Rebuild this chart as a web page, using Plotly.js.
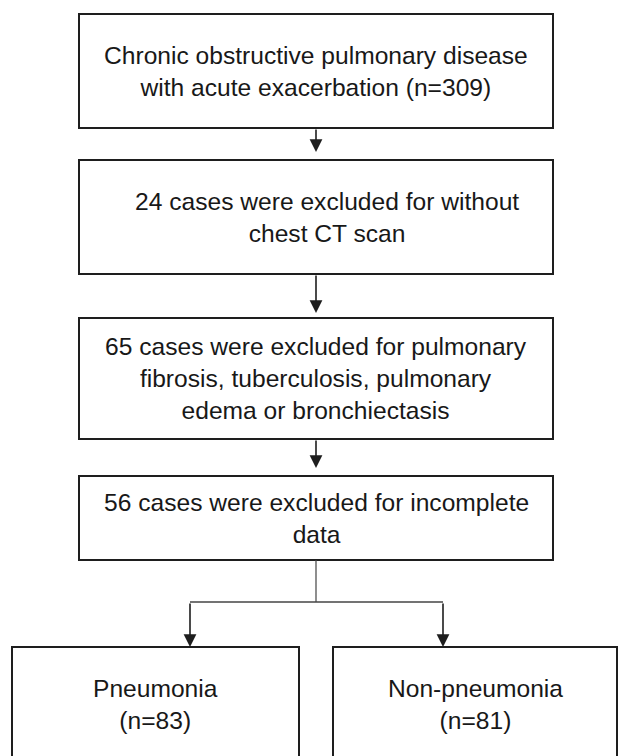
<!DOCTYPE html>
<html><head><meta charset="utf-8">
<script src="https://cdn.plot.ly/plotly-3.0.1.min.js"></script>
<style>html,body{margin:0;padding:0;background:#fff}#chart{width:618px;height:756px}</style>
</head><body><div id="chart"></div>
<script>
// ---- content ----
const totalCount = 309;
const excludedCounts = [24, 65, 56];
const excludedReasons = [
  "without<br>chest CT scan",
  "pulmonary<br>fibrosis, tuberculosis, pulmonary<br>edema or bronchiectasis",
  "incomplete<br>data"
];
const groupNames = ["Pneumonia", "Non-pneumonia"];
const groupCounts = [83, 81];

const stepLabels = ["Chronic obstructive pulmonary disease<br>with acute exacerbation (n=" + totalCount + ")"]
  .concat(excludedCounts.map((n, i) => n + " cases were excluded for " + excludedReasons[i]));
const groupLabels = groupNames.map((g, i) => g + "<br>(n=" + groupCounts[i] + ")");

// ---- geometry (layout) ----
const stepX = [79, 553];
const stepY = [[14, 128], [160, 274], [318, 439], [476, 560]];
const stepTextX = [316, 327, 316, 316];
const arrowTips = [152, 313, 468];
const groupX = [[12, 299], [333, 617]];
const groupY = [647, 761];
const groupArrowX = [190, 443];
const splitY = 602;
const midX = 316;

const ink = "#1e1e1e";
const font = {family: "Liberation Sans, Arial, sans-serif", size: 24.6, color: "#181818"};

const shapes = [];
const annotations = [];

stepLabels.forEach((lab, i) => {
  shapes.push({type: "rect", xref: "x", yref: "y", x0: stepX[0], x1: stepX[1], y0: stepY[i][0], y1: stepY[i][1],
    line: {color: ink, width: 2}, fillcolor: "rgba(0,0,0,0)"});
  annotations.push({xref: "x", yref: "y", x: stepTextX[i], y: (stepY[i][0] + stepY[i][1]) / 2,
    text: lab, showarrow: false, font: font, align: "center", xanchor: "center", yanchor: "middle"});
});
arrowTips.forEach((tip, i) => {
  annotations.push({xref: "x", yref: "y", axref: "x", ayref: "y", x: midX, y: tip, ax: midX, ay: stepY[i][1],
    text: "", showarrow: true, arrowhead: 2, arrowsize: 1.6, arrowwidth: 1.6, arrowcolor: ink});
});
groupLabels.forEach((lab, i) => {
  shapes.push({type: "rect", xref: "x", yref: "y", x0: groupX[i][0], x1: groupX[i][1], y0: groupY[0], y1: groupY[1],
    line: {color: ink, width: 2}, fillcolor: "rgba(0,0,0,0)"});
  annotations.push({xref: "x", yref: "y", x: (groupX[i][0] + groupX[i][1]) / 2, y: (groupY[0] + groupY[1]) / 2,
    text: lab, showarrow: false, font: font, align: "center", xanchor: "center", yanchor: "middle"});
  annotations.push({xref: "x", yref: "y", axref: "x", ayref: "y", x: groupArrowX[i], y: groupY[0], ax: groupArrowX[i], ay: splitY,
    text: "", showarrow: true, arrowhead: 2, arrowsize: 1.6, arrowwidth: 1.6, arrowcolor: ink});
});
shapes.push({type: "line", xref: "x", yref: "y", x0: midX, x1: midX, y0: stepY[3][1], y1: splitY, line: {color: "#444", width: 1.2}});
shapes.push({type: "line", xref: "x", yref: "y", x0: groupArrowX[0], x1: groupArrowX[1], y0: splitY, y1: splitY, line: {color: "#444", width: 1.4}});

const layout = {
  width: 618, height: 756, margin: {l: 0, r: 0, t: 0, b: 0},
  paper_bgcolor: "#fff", plot_bgcolor: "#fff", showlegend: false,
  xaxis: {range: [0, 618], visible: false, fixedrange: true},
  yaxis: {range: [756, 0], visible: false, fixedrange: true},
  shapes: shapes, annotations: annotations
};
Plotly.newPlot("chart", [{x: [], y: [], type: "scatter", mode: "markers", hoverinfo: "skip"}], layout, {displayModeBar: false, staticPlot: true});
</script>
</body></html>
